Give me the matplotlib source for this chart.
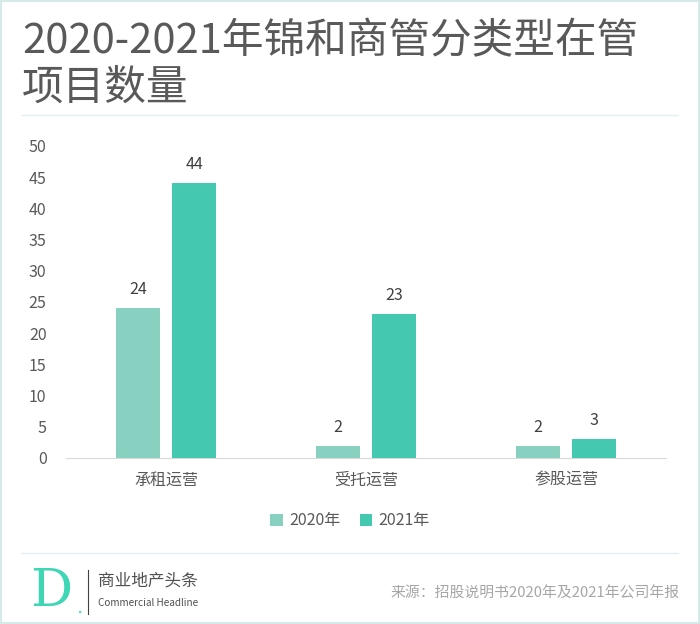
import matplotlib
matplotlib.use("Agg")
import numpy as np
from matplotlib import pyplot as plt
from matplotlib.lines import Line2D
from matplotlib.patches import Rectangle

plt.rcParams['font.family'] = ['Noto Sans CJK SC', 'DejaVu Sans']

categories = ['承租运营', '受托运营', '参股运营']
series_names = ['2020年', '2021年']
values_2020 = [24, 2, 2]
values_2021 = [44, 23, 3]
yticks = [0, 5, 10, 15, 20, 25, 30, 35, 40, 45, 50]

c2020 = '#88d0bf'
c2021 = '#44c9b0'
text_grey = '#595959'

fig = plt.figure(figsize=(7, 6.24), dpi=100)
fig.patch.set_facecolor('white')

# outer border
fig.add_artist(Rectangle((0.002, 0.002), 0.996, 0.996, transform=fig.transFigure,
                         fill=False, edgecolor='#d6ebe8', linewidth=1.5))

# title
fig.text(22 / 700, 1 - 42 / 624, '2020-2021年锦和商管分类型在管', fontsize=30,
         color=text_grey, va='center', ha='left', fontweight='light')
fig.text(22 / 700, 1 - 88 / 624, '项目数量', fontsize=30,
         color=text_grey, va='center', ha='left', fontweight='light')

# separator lines
fig.add_artist(Line2D([22 / 700, 678 / 700], [1 - 115 / 624] * 2, transform=fig.transFigure,
                      color='#e3eef0', linewidth=1))
fig.add_artist(Line2D([22 / 700, 678 / 700], [1 - 553 / 624] * 2, transform=fig.transFigure,
                      color='#e3eef0', linewidth=1))

ax = fig.add_axes([66 / 700, 1 - 458 / 624, 600 / 700, 312 / 624])
x = np.arange(len(categories))
w = 0.22
b1 = ax.bar(x - 0.14, values_2020, w, color=c2020, label=series_names[0], zorder=3)
b2 = ax.bar(x + 0.14, values_2021, w, color=c2021, label=series_names[1], zorder=3)
for bars in (b1, b2):
    for r in bars:
        ax.text(r.get_x() + r.get_width() / 2, r.get_height() + 1.6, f'{int(r.get_height())}',
                ha='center', va='bottom', fontsize=11.5, color='#404040')

ax.set_xlim(-0.5, 2.5)
ax.set_ylim(0, 50)
ax.set_yticks(yticks)
ax.set_xticks(x)
ax.set_xticklabels(categories)
for s in ['top', 'right', 'left']:
    ax.spines[s].set_visible(False)
ax.spines['bottom'].set_color('#d9d9d9')
ax.tick_params(axis='both', length=0, labelsize=11.5, labelcolor=text_grey)
ax.tick_params(axis='y', pad=14)
ax.tick_params(axis='x', pad=10)

fig.legend(handles=[b1, b2], loc='center', bbox_to_anchor=(350 / 700, 1 - 521 / 624),
           ncol=2, frameon=False, fontsize=11.5, handlelength=0.8, handleheight=0.8,
           columnspacing=1.2, handletextpad=0.4, labelcolor=text_grey)

# footer logo
fig.text(30 / 700, 1 - 592 / 624, 'D', fontsize=38, family='DejaVu Serif',
         color='#3fd6b6', va='center', ha='left')
fig.text(79 / 700, 1 - 608 / 624, '.', fontsize=14, family='DejaVu Serif',
         color='#3fd6b6', va='center', ha='center')
fig.add_artist(Line2D([88 / 700, 88 / 700], [1 - 570 / 624, 1 - 614 / 624],
                      transform=fig.transFigure, color='#404040', linewidth=0.8))
fig.text(98 / 700, 1 - 581 / 624, '商业地产头条', fontsize=12, color='#505050',
         va='center', ha='left')
fig.text(98 / 700, 1 - 603 / 624, 'Commercial Headline', fontsize=7.2, color='#505050',
         va='center', ha='left')
fig.text(680 / 700, 1 - 593 / 624, '来源：招股说明书2020年及2021年公司年报', fontsize=10.7,
         color='#a6a6a6', va='center', ha='right')

fig.savefig('out.png', dpi=100, facecolor='white')
